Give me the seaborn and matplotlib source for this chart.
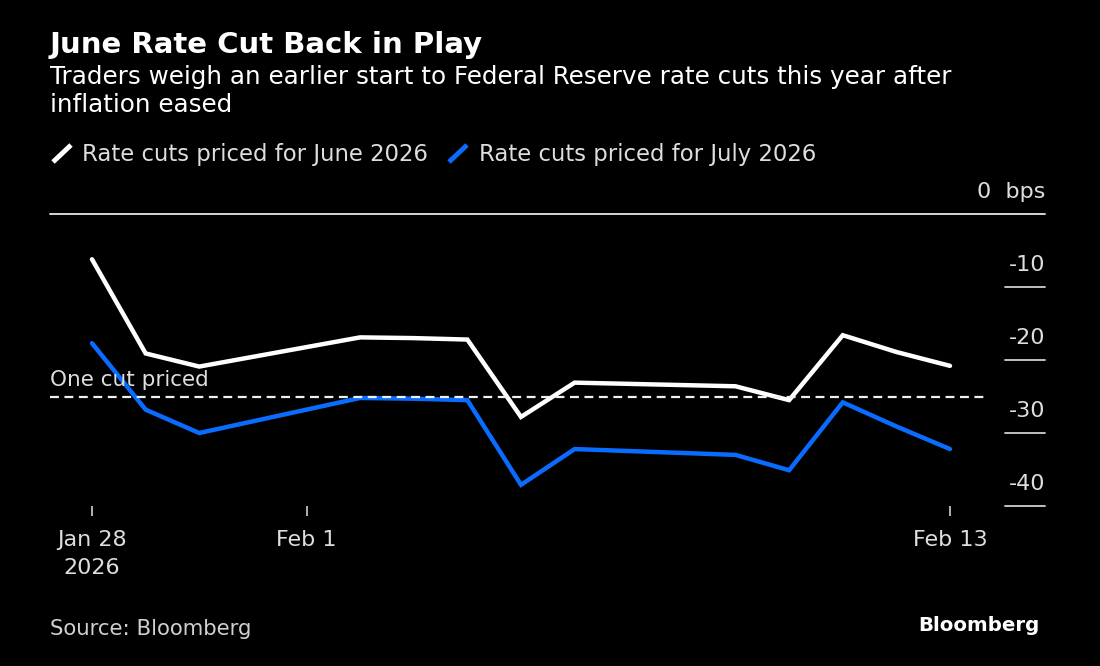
import matplotlib
matplotlib.use('Agg')
import matplotlib.dates as mdates
import matplotlib.transforms as mtransforms
import numpy as np
import pandas as pd
import seaborn as sns
from matplotlib import pyplot as plt
from matplotlib.lines import Line2D

# Donnees (bps)
dates = ['2026-01-28', '2026-01-29', '2026-01-30', '2026-02-02', '2026-02-03',
         '2026-02-04', '2026-02-05', '2026-02-06', '2026-02-09', '2026-02-10',
         '2026-02-11', '2026-02-12', '2026-02-13']
june_cuts = [-6.2, -19.1, -20.9, -16.9, -17.0, -17.2, -27.8, -23.1, -23.6, -25.5, -16.6, -18.9, -20.8]
july_cuts = [-17.7, -26.8, -30.0, -25.2, -25.3, -25.5, -37.1, -32.2, -33.0, -35.1, -25.8, -29.1, -32.2]
series_names = ['Rate cuts priced for June 2026', 'Rate cuts priced for July 2026']
one_cut = -25
y_ticks = [-10, -20, -30, -40]
x_ticks = ['2026-01-28', '2026-02-01', '2026-02-13']
x_tick_labels = ['Jan 28\n2026', 'Feb 1', 'Feb 13']

WHITE = '#ffffff'
BLUE = '#0a6cff'
TXT = '#dedede'
W, H = 1100, 666

df = pd.DataFrame({
    'date': pd.to_datetime(dates * 2),
    'value': june_cuts + july_cuts,
    'serie': [series_names[0]] * len(dates) + [series_names[1]] * len(dates),
})

sns.set_theme(style='dark', rc={'axes.facecolor': 'black', 'figure.facecolor': 'black'})
plt.rcParams['font.family'] = ['DejaVu Sans']

fig = plt.figure(figsize=(W / 100, H / 100), dpi=100)


def px(x, y):
    return x / W, 1 - y / H


# Axes placee en pixels : x 50 -> 1045, y 214 (0 bps) -> 506 (-40 bps)
x0, x1, ytop, ybot = 50, 1045, 214, 506
ax = fig.add_axes([x0 / W, 1 - ybot / H, (x1 - x0) / W, (ybot - ytop) / H])
ax.set_facecolor('black')

sns.lineplot(data=df, x='date', y='value', hue='serie', palette=[WHITE, BLUE],
             linewidth=3.2, legend=False, ax=ax, solid_capstyle='round', solid_joinstyle='miter')

# Echelle x : Jan 28 a 92 px, Feb 13 a 950 px
d0 = mdates.date2num(pd.Timestamp('2026-01-28'))
per_day = (950 - 92) / 16.0
ax.set_xlim(d0 - (92 - x0) / per_day, d0 + (x1 - 92) / per_day)
ax.set_ylim(-40, 0)

for s in ax.spines.values():
    s.set_visible(False)
ax.grid(False)

# Ligne du zero et grille courte a droite
ax.axhline(0, color='#e6e6e6', lw=1.3, clip_on=False)
xmin_grid = (1005 - x0) / (x1 - x0)
for v in y_ticks:
    ax.axhline(v, xmin=xmin_grid, xmax=1, color='#d0d0d0', lw=1.3, clip_on=False)

# Une baisse de taux
ax.axhline(one_cut, xmin=0, xmax=(988 - x0) / (x1 - x0), color='#f0f0f0', lw=1.6,
           linestyle=(0, (4, 2.5)))
off = mtransforms.offset_copy(ax.transData, fig=fig, x=0, y=10 * 72 / 100, units='points')
ax.text(ax.get_xlim()[0], one_cut, 'One cut priced', transform=off, color=TXT,
        fontsize=15.5, ha='left', va='baseline')

# Etiquettes de l'axe y au-dessus des lignes
trans = mtransforms.blended_transform_factory(ax.transAxes, ax.transData)
trans_up = mtransforms.offset_copy(trans, fig=fig, x=0, y=16 * 72 / 100, units='points')
ax.text(1, 0, '0  bps', transform=trans_up, color=TXT, fontsize=16, ha='right', va='baseline')
for v in y_ticks:
    ax.text(1, v, str(v), transform=trans_up, color=TXT, fontsize=16, ha='right', va='baseline')
ax.set_yticks([])
ax.set_ylabel('')
ax.set_xlabel('')

ax.set_xticks(mdates.date2num(pd.to_datetime(x_ticks)))
ax.set_xticklabels(x_tick_labels, linespacing=1.55)
ax.tick_params(axis='x', colors='#d0d0d0', labelcolor=TXT, labelsize=16,
               length=7, width=1.2, direction='out', pad=10, bottom=True)
ax.tick_params(axis='y', left=False, right=False)

# Titres
fig.text(*px(50, 53), 'June Rate Cut Back in Play', color='white', fontsize=21,
         fontweight='bold', ha='left', va='baseline')
fig.text(*px(50, 84), 'Traders weigh an earlier start to Federal Reserve rate cuts this year after',
         color='white', fontsize=17.7, ha='left', va='baseline')
fig.text(*px(50, 112), 'inflation eased', color='white', fontsize=17.7, ha='left', va='baseline')

# Legende manuelle
for (xa, xb, xt), col, name in zip([(53, 71, 82), (449, 467, 479)], [WHITE, BLUE], series_names):
    fig.add_artist(Line2D([xa / W, xb / W], [1 - 162 / H, 1 - 145 / H], color=col, lw=3.5,
                          transform=fig.transFigure, solid_capstyle='butt'))
    fig.text(*px(xt, 161), name, color=TXT, fontsize=16.4, ha='left', va='baseline')

fig.text(*px(50, 635), 'Source: Bloomberg', color='#cfcfcf', fontsize=15.3, ha='left', va='baseline')
fig.text(*px(1040, 631), 'Bloomberg', color='white', fontsize=14.2, fontweight='bold',
         ha='right', va='baseline')

fig.savefig('out.png', dpi=100, facecolor='black')
plt.close()
